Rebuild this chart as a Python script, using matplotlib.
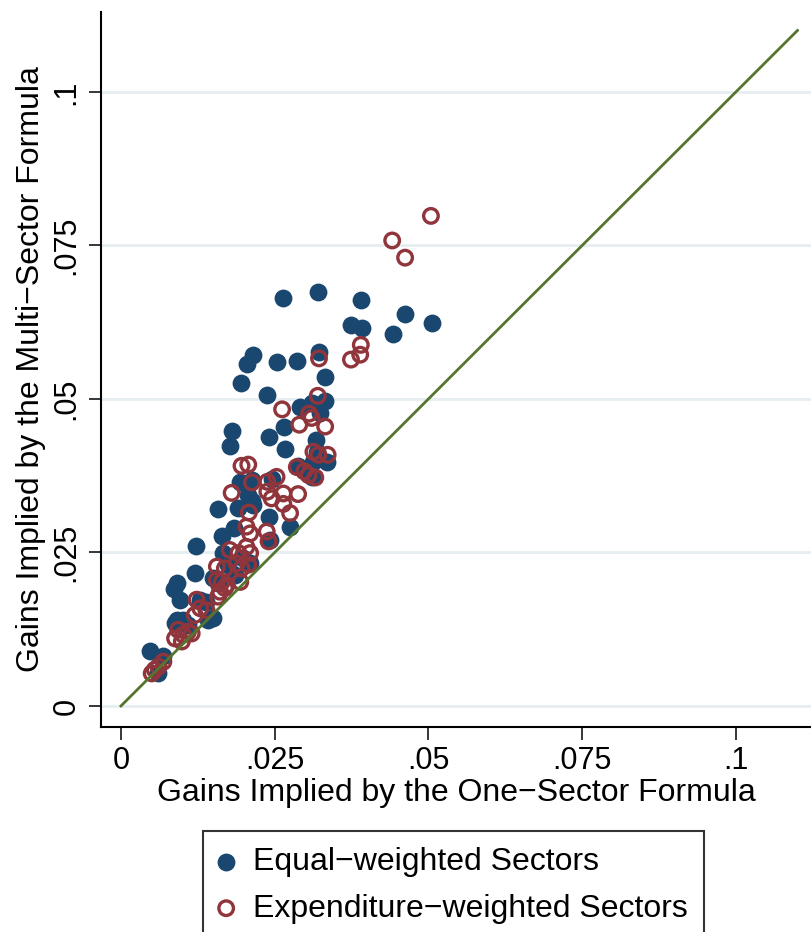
import matplotlib
matplotlib.use("Agg")
import matplotlib.pyplot as plt
import numpy as np

# gains implied by the one-sector (x) and multi-sector (y) formulas
equal_x = [0.0263, 0.0320, 0.0390, 0.0462, 0.0505, 0.0374, 0.0392, 0.0442,
           0.0214, 0.0205, 0.0253, 0.0287, 0.0322, 0.0332, 0.0195, 0.0238,
           0.0291, 0.0332, 0.0310, 0.0323, 0.0265, 0.0241, 0.0267, 0.0317,
           0.0180, 0.0177, 0.0335, 0.0312, 0.0318, 0.0288, 0.0299, 0.0310,
           0.0194, 0.0213, 0.0245, 0.0207, 0.0213, 0.0157, 0.0191, 0.0240,
           0.0275, 0.0183, 0.0164, 0.0122, 0.0242, 0.0166, 0.0215, 0.0120,
           0.0091, 0.0086, 0.0096, 0.0150, 0.0158, 0.0129, 0.0142, 0.0088,
           0.0101, 0.0109, 0.0048, 0.0069, 0.0061, 0.0210, 0.0199, 0.0174,
           0.0185, 0.0139, 0.0150, 0.0091]
equal_y = [0.0664, 0.0674, 0.0661, 0.0638, 0.0623, 0.0621, 0.0615, 0.0606,
           0.0572, 0.0557, 0.0560, 0.0562, 0.0577, 0.0535, 0.0526, 0.0507,
           0.0487, 0.0497, 0.0493, 0.0477, 0.0455, 0.0438, 0.0419, 0.0433,
           0.0447, 0.0423, 0.0398, 0.0398, 0.0414, 0.0390, 0.0384, 0.0373,
           0.0365, 0.0368, 0.0369, 0.0344, 0.0333, 0.0320, 0.0322, 0.0308,
           0.0292, 0.0289, 0.0276, 0.0261, 0.0270, 0.0249, 0.0327, 0.0217,
           0.0200, 0.0190, 0.0173, 0.0208, 0.0200, 0.0173, 0.0140, 0.0135,
           0.0140, 0.0132, 0.0090, 0.0081, 0.0053, 0.0232, 0.0241, 0.0230,
           0.0213, 0.0170, 0.0143, 0.0140]

exp_x = [0.0504, 0.0441, 0.0462, 0.0390, 0.0389, 0.0374, 0.0322, 0.0320,
         0.0262, 0.0306, 0.0310, 0.0290, 0.0332, 0.0313, 0.0321, 0.0336,
         0.0196, 0.0207, 0.0286, 0.0298, 0.0305, 0.0316, 0.0253, 0.0238,
         0.0213, 0.0180, 0.0238, 0.0245, 0.0264, 0.0288, 0.0264, 0.0275,
         0.0208, 0.0204, 0.0210, 0.0237, 0.0240, 0.0177, 0.0191, 0.0204,
         0.0210, 0.0156, 0.0169, 0.0188, 0.0196, 0.0207, 0.0156, 0.0164,
         0.0172, 0.0194, 0.0161, 0.0169, 0.0158, 0.0123, 0.0129, 0.0139,
         0.0120, 0.0093, 0.0088, 0.0101, 0.0109, 0.0099, 0.0115, 0.0069,
         0.0061, 0.0050, 0.0055]
exp_y = [0.0798, 0.0758, 0.0730, 0.0588, 0.0572, 0.0564, 0.0566, 0.0505,
         0.0483, 0.0476, 0.0469, 0.0458, 0.0455, 0.0414, 0.0409, 0.0409,
         0.0391, 0.0393, 0.0389, 0.0382, 0.0376, 0.0372, 0.0373, 0.0365,
         0.0364, 0.0347, 0.0349, 0.0338, 0.0346, 0.0345, 0.0329, 0.0314,
         0.0315, 0.0292, 0.0281, 0.0284, 0.0268, 0.0254, 0.0249, 0.0259,
         0.0249, 0.0227, 0.0224, 0.0232, 0.0224, 0.0230, 0.0205, 0.0202,
         0.0197, 0.0202, 0.0186, 0.0192, 0.0178, 0.0173, 0.0159, 0.0156,
         0.0148, 0.0124, 0.0110, 0.0116, 0.0121, 0.0105, 0.0118, 0.0072,
         0.0064, 0.0053, 0.0059]

ticks = [0, 0.025, 0.05, 0.075, 0.1]
tick_labels = ["0", ".025", ".05", ".075", ".1"]

plt.rcParams['font.family'] = ['Liberation Sans', 'DejaVu Sans']

fig = plt.figure(figsize=(8.11, 9.32), dpi=100)
ax = fig.add_axes([0.1245, 0.2200, 0.8755, 0.7671])

navy = "#1A476F"
maroon = "#90353B"

ax.scatter(equal_x, equal_y, s=165, color=navy, linewidths=0, zorder=3,
           label="Equal\u2212weighted Sectors")
ax.scatter(exp_x, exp_y, s=110, facecolors="none", edgecolors=maroon,
           linewidths=2.4, zorder=4, label="Expenditure\u2212weighted Sectors")
ax.plot([0, 0.11], [0, 0.11], color="#55752F", lw=2, zorder=5)

ax.set_xlim(-0.00325, 0.1122)
ax.set_ylim(-0.00342, 0.113)
ax.set_xticks(ticks)
ax.set_xticklabels(tick_labels)
ax.set_yticks(ticks)
ax.set_yticklabels(tick_labels, rotation=90, va="center")
ax.tick_params(axis="both", direction="out", length=9, width=1.1,
               labelsize=22, pad=5)
ax.grid(axis="y", color="#E6EEF1", lw=2, zorder=0)
ax.set_axisbelow(True)

for spine in ["top", "right"]:
    ax.spines[spine].set_visible(False)
for spine in ["left", "bottom"]:
    ax.spines[spine].set_linewidth(1.5)

ax.set_xlabel("Gains Implied by the One\u2212Sector Formula", fontsize=23,
              labelpad=1)
ax.set_ylabel("Gains Implied by the Multi\u2212Sector Formula", fontsize=23,
              labelpad=4)

leg = fig.legend(loc="upper left", bbox_to_anchor=(203 / 811, 1 - 831 / 932),
                 fontsize=23, frameon=True, fancybox=False, edgecolor="black",
                 handlelength=0.45, handletextpad=0.62, borderpad=0.5,
                 labelspacing=0.52, borderaxespad=0)
leg.get_frame().set_linewidth(1.5)

fig.savefig("out.png", dpi=100)
